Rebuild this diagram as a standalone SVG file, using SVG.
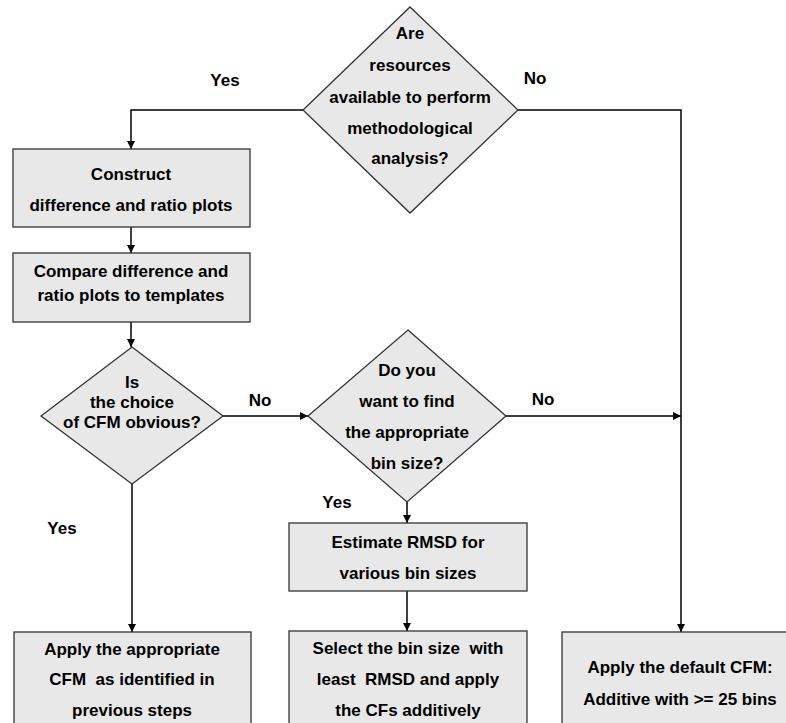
<svg xmlns="http://www.w3.org/2000/svg" width="786" height="723" viewBox="0 0 786 723">
<style>
.node{fill:#e8e8e8;stroke:#333;stroke-width:1.3}
.t{font-family:"Liberation Sans",Arial,sans-serif;font-weight:bold;font-size:17px;fill:#000;text-anchor:middle;white-space:pre}
.lbl{font-family:"Liberation Sans",Arial,sans-serif;font-weight:bold;font-size:17px;fill:#000;text-anchor:middle}
.c{fill:none;stroke:#000;stroke-width:1.5;marker-end:url(#ah)}
</style>
<defs>
<marker id="ah" viewBox="0 0 10 10" refX="10" refY="5" markerWidth="8" markerHeight="8" markerUnits="userSpaceOnUse" orient="auto">
<path d="M0,0 L10,5 L0,10 z" fill="#000"/>
</marker>
</defs>
<rect width="786" height="723" fill="#fff"/>
<g id="connectors">
<path class="c" d="M303,110 H131 V149"/>
<path class="c" d="M518,110 H681 V632"/>
<path class="c" d="M131,227 V253"/>
<path class="c" d="M131,322 V347"/>
<path class="c" d="M223,416 H308"/>
<path class="c" d="M506,416 H681"/>
<path class="c" d="M132,484 V632"/>
<path class="c" d="M407,502 V523"/>
<path class="c" d="M407,591 V631"/>
<text class="lbl" x="225" y="86">Yes</text>
<text class="lbl" x="535" y="84">No</text>
<text class="lbl" x="260" y="406">No</text>
<text class="lbl" x="543" y="405">No</text>
<text class="lbl" x="337" y="508">Yes</text>
<text class="lbl" x="62" y="534">Yes</text>
</g>
<g id="q_resources">
<polygon class="node" points="410,7 518,110 410,213 303,110"/>
<text class="t" x="410" y="39">Are</text>
<text class="t" x="410" y="71">resources</text>
<text class="t" x="410" y="103">available to perform</text>
<text class="t" x="410" y="134">methodological</text>
<text class="t" x="410" y="164">analysis?</text>
</g>
<g id="construct">
<rect class="node" x="13" y="149" width="237" height="78"/>
<text class="t" x="131" y="180">Construct</text>
<text class="t" x="131" y="211">difference and ratio plots</text>
</g>
<g id="compare">
<rect class="node" x="13" y="253" width="237" height="69"/>
<text class="t" x="131" y="277">Compare difference and</text>
<text class="t" x="131" y="301">ratio plots to templates</text>
</g>
<g id="q_obvious">
<polygon class="node" points="132,347 223,416 132,484 41,416"/>
<text class="t" x="132" y="388">Is</text>
<text class="t" x="132" y="408">the choice</text>
<text class="t" x="132" y="428">of CFM obvious?</text>
</g>
<g id="q_binsize">
<polygon class="node" points="408,330 506,416 407,502 308,416"/>
<text class="t" x="407" y="376">Do you</text>
<text class="t" x="407" y="407">want to find</text>
<text class="t" x="407" y="438">the appropriate</text>
<text class="t" x="407" y="469">bin size?</text>
</g>
<g id="estimate">
<rect class="node" x="289" y="523" width="238" height="68"/>
<text class="t" x="408" y="548">Estimate RMSD for</text>
<text class="t" x="408" y="579">various bin sizes</text>
</g>
<g id="select">
<rect class="node" x="289" y="631" width="238" height="100"/>
<text class="t" x="408" y="654">Select the bin size  with</text>
<text class="t" x="408" y="685">least  RMSD and apply</text>
<text class="t" x="408" y="716">the CFs additively</text>
</g>
<g id="apply_cfm">
<rect class="node" x="14" y="632" width="237" height="100"/>
<text class="t" x="132" y="655">Apply the appropriate</text>
<text class="t" x="132" y="685">CFM  as identified in</text>
<text class="t" x="132" y="716">previous steps</text>
</g>
<g id="apply_default">
<rect class="node" x="562" y="632" width="240" height="100"/>
<text class="t" x="680" y="673">Apply the default CFM:</text>
<text class="t" x="680" y="705">Additive with &gt;= 25 bins</text>
</g>
</svg>
